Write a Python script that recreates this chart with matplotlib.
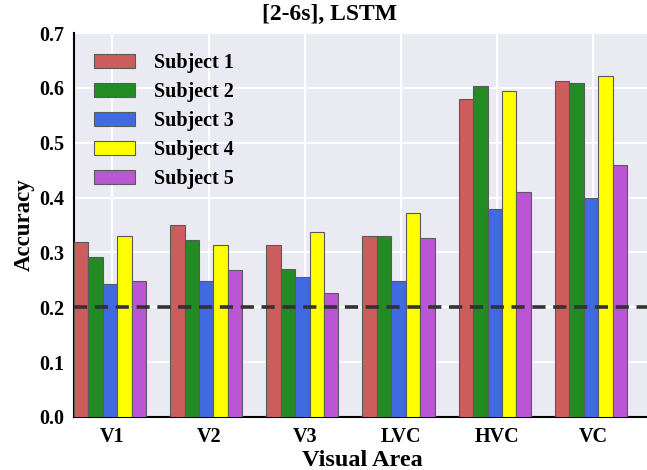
import numpy as np
import matplotlib
matplotlib.use("Agg")
import matplotlib.pyplot as plt

# data
areas = ["V1", "V2", "V3", "LVC", "HVC", "VC"]
subjects = ["Subject 1", "Subject 2", "Subject 3", "Subject 4", "Subject 5"]
subject1 = [0.319, 0.350, 0.313, 0.330, 0.580, 0.612]
subject2 = [0.291, 0.322, 0.270, 0.330, 0.604, 0.608]
subject3 = [0.243, 0.248, 0.255, 0.248, 0.380, 0.400]
subject4 = [0.330, 0.313, 0.338, 0.371, 0.595, 0.621]
subject5 = [0.248, 0.268, 0.226, 0.327, 0.411, 0.460]
chance_level = 0.2
colors = ["#CD5C5C", "#228B22", "#4169E1", "#FFFF00", "#BA55D3"]

plt.rcParams['font.family'] = ['Liberation Serif', 'DejaVu Serif']
plt.rcParams['font.weight'] = 'bold'
plt.rcParams['lines.scale_dashes'] = False

fig = plt.figure(figsize=(6.47, 4.70), dpi=100)
ax = fig.add_axes([74 / 647, 53 / 470, 577 / 647, 384 / 470])
ax.set_facecolor("#EAEAF2")

ind = np.arange(len(areas))
width = 0.15
series = [subject1, subject2, subject3, subject4, subject5]
for k, (vals, name) in enumerate(zip(series, subjects)):
    ax.bar(ind + k * width, vals, width, align='edge', color=colors[k],
           edgecolor='#5a5a5a', linewidth=0.8, label=name, zorder=3)

ax.axhline(chance_level, color='#333333', lw=2.6, dashes=(9.5, 5.5), zorder=4)

ax.set_xlim(0, 6)
ax.set_ylim(0, 0.7)
ax.set_xticks(ind + 0.4)
ax.set_xticklabels(areas, fontsize=14.5, fontweight='bold')
ax.set_yticks(np.arange(0, 0.71, 0.1))
ax.set_yticklabels(["%.1f" % v for v in np.arange(0, 0.71, 0.1)], fontsize=14.5, fontweight='bold')
ax.tick_params(length=0, pad=7)
ax.grid(True, color='white', lw=1.5, zorder=0)
ax.set_axisbelow(True)

for side in ['top', 'right']:
    ax.spines[side].set_visible(False)
for side in ['left', 'bottom']:
    ax.spines[side].set_color('black')
    ax.spines[side].set_linewidth(1.5)

ax.set_xlabel("Visual Area", fontsize=17.5, fontweight='bold', labelpad=2)
ax.set_ylabel("Accuracy", fontsize=16.5, fontweight='bold', labelpad=3)
fig.text(329 / 647, 456 / 470, "[2-6s], LSTM", ha='center', va='center',
         fontsize=17, fontweight='bold')

ax.legend(loc='upper left', frameon=False, handlelength=2.05,
          handleheight=0.7, handletextpad=0.9, labelspacing=0.45,
          borderaxespad=0.6, prop={'weight': 'bold', 'size': 14.5})

fig.savefig("out.png", dpi=100)
